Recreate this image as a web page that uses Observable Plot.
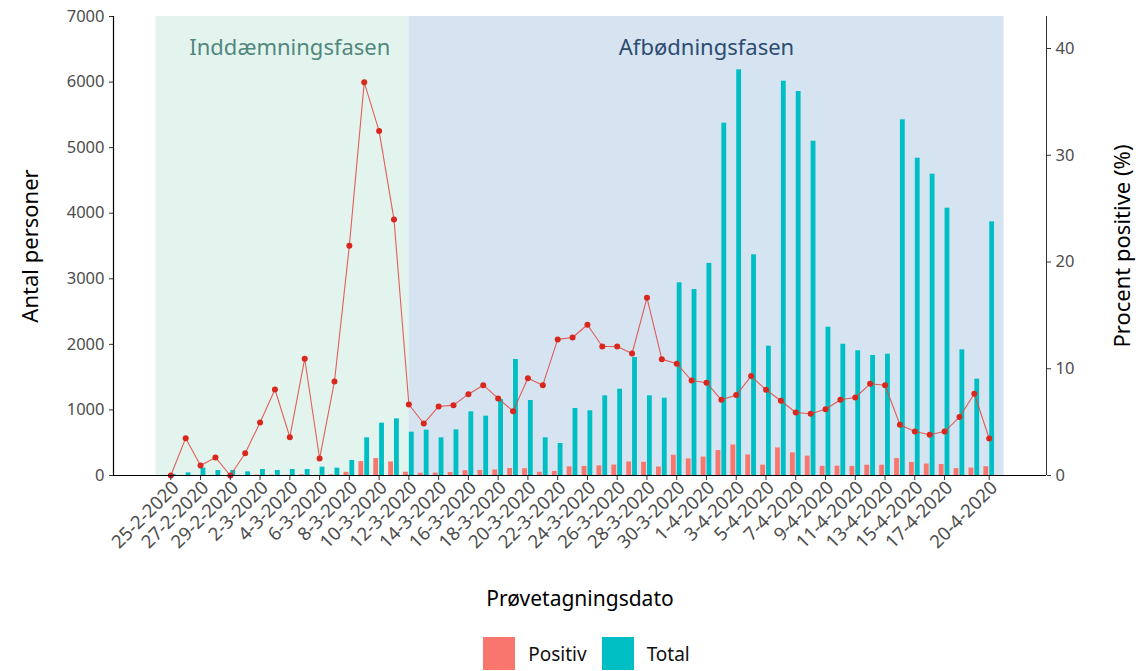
<!DOCTYPE html>
<html><head><meta charset="utf-8">
<script src="https://cdn.jsdelivr.net/npm/d3@7"></script>
<script src="https://cdn.jsdelivr.net/npm/@observablehq/plot@0.6"></script>
<style>
body{margin:0;background:#fff;font-family:"Noto Sans",sans-serif;}
#legend{display:flex;justify-content:center;align-items:center;margin-top:12px;padding-left:52px;font-size:19px;color:#111;}
#legend .sw{width:32px;height:33px;margin-right:13px;}
#legend .lab{margin-right:15px;}
</style></head><body><div id="chart"></div><div id="legend"></div>
<script>
const dates = ["25-2-2020","26-2-2020","27-2-2020","28-2-2020","29-2-2020",
"1-3-2020","2-3-2020","3-3-2020","4-3-2020","5-3-2020","6-3-2020","7-3-2020","8-3-2020","9-3-2020","10-3-2020",
"11-3-2020","12-3-2020","13-3-2020","14-3-2020","15-3-2020","16-3-2020","17-3-2020","18-3-2020","19-3-2020","20-3-2020",
"21-3-2020","22-3-2020","23-3-2020","24-3-2020","25-3-2020","26-3-2020","27-3-2020","28-3-2020","29-3-2020","30-3-2020","31-3-2020",
"1-4-2020","2-4-2020","3-4-2020","4-4-2020","5-4-2020","6-4-2020","7-4-2020","8-4-2020","9-4-2020","10-4-2020",
"11-4-2020","12-4-2020","13-4-2020","14-4-2020","15-4-2020","16-4-2020","17-4-2020","18-4-2020","19-4-2020","20-4-2020"];
const total = [15,40,112,76,76,56,91,76,91,91,127,112,229,575,798,864,661,691,575,697,971,905,1159,1769,1144,
575,488,1022,987,1215,1316,1800,1215,1179,2939,2837,3235,5373,6187,3366,1972,6013,5856,5098,2262,2002,
1902,1830,1850,5425,4839,4595,4077,1917,1469,3869];
const positiv = [0,1,1,1,0,1,5,6,3,10,2,10,49,212,258,207,50,34,37,46,74,77,84,107,104,
49,62,132,139,147,159,206,202,129,308,252,281,381,466,313,158,421,346,295,140,142,
139,157,157,258,199,175,168,105,113,134];
const procent = [0,3.5,0.94,1.69,0,2.09,4.97,8.06,3.59,10.94,1.59,8.81,21.53,36.83,32.27,23.99,
6.65,4.87,6.47,6.59,7.62,8.46,7.22,6.03,9.12,8.46,12.75,12.93,14.12,12.09,12.09,11.43,16.65,10.9,10.47,8.9,
8.69,7.09,7.53,9.31,8.03,7.0,5.9,5.78,6.21,7.09,7.31,8.59,8.46,4.75,4.12,3.81,4.12,5.47,7.66,3.47];
const tickLabels = ["25-2-2020","27-2-2020","29-2-2020","2-3-2020","4-3-2020","6-3-2020","8-3-2020","10-3-2020",
"12-3-2020","14-3-2020","16-3-2020","18-3-2020","20-3-2020","22-3-2020","24-3-2020","26-3-2020","28-3-2020",
"30-3-2020","1-4-2020","3-4-2020","5-4-2020","7-4-2020","9-4-2020","11-4-2020","13-4-2020","15-4-2020","17-4-2020","20-4-2020"];
const countTicks = [0,1000,2000,3000,4000,5000,6000,7000];
const pctTicks = [0,10,20,30,40];
const countMax = 7000, pctMax = 43;
const phases = ["Inddæmningsfasen","Afbødningsfasen"];
const phaseStart = ["24-2-2020","12-3-2020"];
const phaseEnd = ["12-3-2020","21-4-2020"];
const phaseLabelAt = ["4-3-2020","1-4-2020"];
const phaseFill = ["#e3f4ef","#d6e4f1"];
const phaseText = ["#52877c","#2d4c70"];
const seriesNames = ["Positiv","Total"];
const seriesColors = ["#F8766D","#00BFC4"];

const parse = d3.utcParse("%d-%m-%Y");
const fmt = d3.utcFormat("%-d-%-m-%Y");
const rows = dates.map((d,i)=>({date:parse(d), positiv:positiv[i], total:total[i], pct:procent[i]}));
const phaseRows = phases.map((p,i)=>({name:p, x1:parse(phaseStart[i]), x2:parse(phaseEnd[i]), at:parse(phaseLabelAt[i]), i}));
const lo = d3.min(phaseRows,d=>d.x1), hi = d3.max(phaseRows,d=>d.x2);
const pad = (hi-lo)*0.05;
const xDomain = [new Date(+lo-pad), new Date(+hi+pad)];
const k = countMax/pctMax;
const barSpan = 8.6*3600*1000;
const font = '"Noto Sans", sans-serif';
const tickDates = tickLabels.map(parse);

const chart = Plot.plot({
  width:1136, height:625, marginTop:16, marginBottom:150, marginLeft:113, marginRight:90,
  style:{fontFamily:font, fontSize:"16.5px", background:"white", overflow:"visible"},
  x:{type:"utc", domain:xDomain},
  y:{domain:[0,countMax]},
  marks:[
    Plot.rect(phaseRows,{x1:"x1", x2:"x2", y1:0, y2:countMax, fill:d=>phaseFill[d.i]}),
    Plot.text(phaseRows,{x:"at", frameAnchor:"top", dy:23, text:"name", fill:d=>phaseText[d.i], fontSize:22}),
    Plot.rectY(rows,{x1:d=>new Date(+d.date-barSpan), x2:"date", y:"positiv", fill:seriesColors[0], insetRight:0.5}),
    Plot.rectY(rows,{x1:"date", x2:d=>new Date(+d.date+barSpan), y:"total", fill:seriesColors[1], insetLeft:0.5}),
    Plot.line(rows,{x:"date", y:d=>d.pct*k, stroke:"#e0453c", strokeOpacity:0.85, strokeWidth:1.1}),
    Plot.dot(rows,{x:"date", y:d=>d.pct*k, r:3, fill:"#d9271d"}),
    Plot.axisX({ticks:tickDates, tickFormat:()=>"", label:null, stroke:"#333", tickSize:5}),
    Plot.axisX({ticks:tickDates, tickFormat:fmt, tickRotate:-45, label:null, fill:"#4d4d4d", tickSize:0, tickPadding:9, dx:5, fontSize:18.5}),
    Plot.axisY({ticks:countTicks, tickFormat:d=>String(d), label:null, fill:"#4d4d4d", stroke:"#333", tickSize:4}),
    Plot.axisY({anchor:"right", ticks:pctTicks.map(p=>p*k), tickFormat:v=>String(Math.round(v/k)), label:null, fill:"#4d4d4d", stroke:"#333", tickSize:4}),
    Plot.ruleY([0],{stroke:"black", strokeWidth:1.2}),
    Plot.ruleX([xDomain[0]],{stroke:"black", strokeWidth:1.2}),
    Plot.ruleX([xDomain[1]],{stroke:"#333", strokeWidth:1}),
    Plot.text(["Antal personer"],{text:d=>d, frameAnchor:"left", textAnchor:"middle", rotate:-90, dx:-83, fontSize:22, fill:"black"}),
    Plot.text(["Procent positive (%)"],{text:d=>d, frameAnchor:"right", textAnchor:"middle", rotate:-90, dx:76, fontSize:22, fill:"black"}),
    Plot.text(["Prøvetagningsdato"],{text:d=>d, frameAnchor:"bottom", dy:130, fontSize:21, fill:"black"})
  ]
});
document.getElementById("chart").appendChild(chart);
const lg = document.getElementById("legend");
seriesNames.forEach((n,i)=>{
  const s=document.createElement("div"); s.className="sw"; s.style.background=seriesColors[i]; lg.appendChild(s);
  const t=document.createElement("div"); t.className="lab"; t.textContent=n; lg.appendChild(t);
});
</script></body></html>
